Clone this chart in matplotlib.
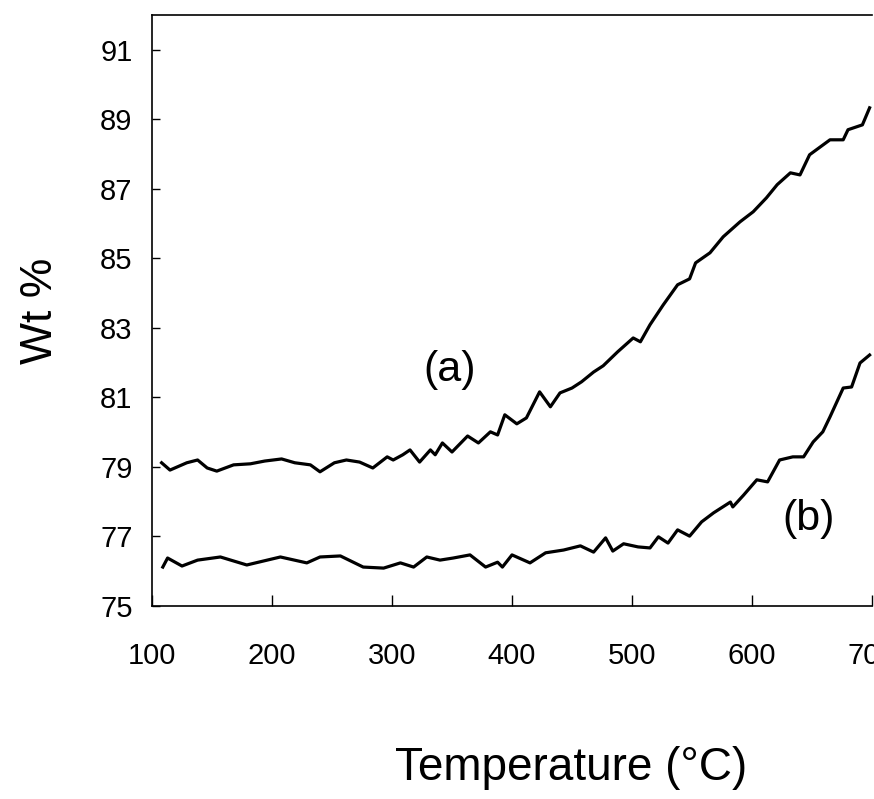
import matplotlib
matplotlib.use("Agg")
import matplotlib.pyplot as plt

plt.rcParams['font.family'] = ['Liberation Sans', 'DejaVu Sans']

# curve (a)
temp_a = [108, 115, 129, 138, 146, 154, 168, 182, 194, 208, 219, 232, 240, 252, 262,
          273, 284, 296, 301, 309, 315, 323, 332, 336, 342, 350, 363, 372, 382, 388,
          394, 404, 412, 423, 432, 440, 450, 458, 468, 476, 488, 501, 507, 515, 526,
          538, 548, 553, 565, 576, 590, 601, 612, 621, 632, 640, 648, 665, 676, 680,
          692, 698]
wt_a = [79.12, 78.91, 79.12, 79.20, 78.97, 78.88, 79.06, 79.09, 79.17, 79.23, 79.12,
        79.06, 78.86, 79.12, 79.20, 79.14, 78.97, 79.29, 79.20, 79.35, 79.49, 79.14,
        79.49, 79.35, 79.69, 79.43, 79.89, 79.69, 80.01, 79.92, 80.50, 80.24, 80.41,
        81.16, 80.73, 81.13, 81.27, 81.45, 81.73, 81.91, 82.31, 82.71, 82.60, 83.09,
        83.66, 84.24, 84.41, 84.87, 85.16, 85.62, 86.05, 86.34, 86.74, 87.12, 87.46,
        87.40, 87.98, 88.41, 88.41, 88.70, 88.84, 89.33]

# curve (b)
temp_b = [109, 113, 125, 138, 157, 179, 207, 229, 240, 257, 276, 293, 307, 318, 329,
          340, 351, 365, 378, 388, 392, 400, 415, 428, 443, 457, 468, 478, 484, 493,
          505, 515, 522, 530, 538, 548, 558, 568, 582, 584, 593, 604, 613, 623, 634,
          643, 651, 659, 665, 676, 683, 690, 698]
wt_b = [76.12, 76.38, 76.15, 76.32, 76.41, 76.18, 76.41, 76.24, 76.41, 76.44, 76.12,
        76.09, 76.24, 76.12, 76.41, 76.32, 76.38, 76.47, 76.12, 76.26, 76.12, 76.47,
        76.24, 76.53, 76.61, 76.73, 76.55, 76.96, 76.58, 76.79, 76.70, 76.67, 76.99,
        76.81, 77.19, 77.01, 77.42, 77.68, 77.99, 77.85, 78.19, 78.63, 78.57, 79.20,
        79.29, 79.29, 79.72, 80.01, 80.44, 81.27, 81.30, 81.99, 82.22]

xticks = [100, 200, 300, 400, 500, 600, 700]
yticks = [75, 77, 79, 81, 83, 85, 87, 89, 91]

fig = plt.figure(figsize=(8.74, 7.99), dpi=100)
ax = fig.add_axes([152/874, 1-606/799, 720/874, 591/799])

ax.plot(temp_a, wt_a, color='black', lw=2.3)
ax.plot(temp_b, wt_b, color='black', lw=2.3)

ax.set_xlim(100, 700)
ax.set_ylim(75, 92)
ax.set_xticks(xticks)
ax.set_yticks(yticks)
ax.tick_params(axis='y', direction='in', length=6, width=1, pad=14, labelsize=21)
ax.tick_params(axis='x', direction='in', length=8, width=1, pad=26, labelsize=21)
ax.spines['right'].set_visible(False)
for s in ['left', 'bottom', 'top']:
    ax.spines[s].set_linewidth(1.2)

ax.text(348, 81.8, '(a)', fontsize=31, ha='center', va='center')
ax.text(647, 77.5, '(b)', fontsize=31, ha='center', va='center')

ax.set_ylabel('Wt %', fontsize=32, labelpad=28)
fig.text(571/874, 1-768/799, 'Temperature (\u00b0C)', fontsize=33, ha='center', va='center')

fig.savefig('out.png', dpi=100)
